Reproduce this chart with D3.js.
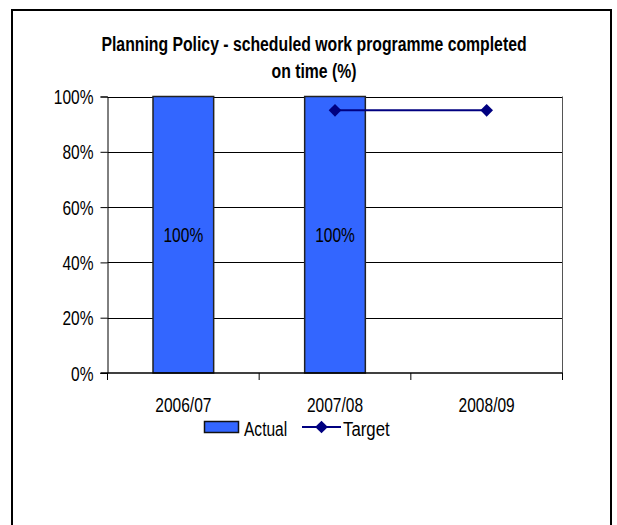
<!DOCTYPE html>
<html lang="en">
<head>
<meta charset="UTF-8">
<title>Planning Policy - scheduled work programme completed on time</title>
<script src="https://cdn.jsdelivr.net/npm/d3@7"></script>
<style>
body {
    margin: 0;
    background: #ffffff;
}
svg text {
    font-family: "Liberation Sans Narrow", "Arial Narrow", "Liberation Sans", Arial, sans-serif;
    fill: #000000;
}
</style>
</head>
<body>
<div id="chart"></div>
<script>
// chart data
const TITLE_LINES = ["Planning Policy - scheduled work programme completed", "on time (%)"];
const CATEGORIES = ["2006/07", "2007/08", "2008/09"];
const ACTUAL = [100, 100, null];
const TARGET = [null, 95, 95];
const Y_TICKS = [0, 20, 40, 60, 80, 100];

// page and plot geometry
const WIDTH = 617;
const HEIGHT = 525;
const PLOT = {left: 107.5, right: 562.5, top: 96.5, bottom: 373};
const BAR_COLOR = "#3366ff";
const TARGET_COLOR = "#000080";
const FONT_SIZE = 21;
// no narrow font installed, so squeeze text horizontally
const SQUEEZE = 0.74;
const TITLE_SQUEEZE = 0.77;

const svg = d3.select("#chart").append("svg")
    .attr("width", WIDTH)
    .attr("height", HEIGHT);

function addText(parent, px, py, str, anchor, size, bold, sx) {
    return parent.append("text")
        .attr("transform", `translate(${px},${py}) scale(${sx || SQUEEZE},1)`)
        .attr("text-anchor", anchor)
        .style("font-size", size + "px")
        .style("font-weight", bold ? "bold" : "normal")
        .text(str);
}

// outer frame, bottom edge runs off the picture
svg.append("rect")
    .attr("x", 12)
    .attr("y", 10)
    .attr("width", 599)
    .attr("height", 540)
    .attr("fill", "none")
    .attr("stroke", "#000")
    .attr("stroke-width", 2);

// title
TITLE_LINES.forEach((t, i) => addText(svg, 314, 51 + i * 27, t, "middle", 20.5, true, TITLE_SQUEEZE));

const x = d3.scaleBand()
    .domain(CATEGORIES)
    .range([PLOT.left, PLOT.right])
    .paddingInner(0)
    .paddingOuter(0);

const y = d3.scaleLinear()
    .domain([0, 100])
    .range([PLOT.bottom, PLOT.top]);

// gridlines
svg.append("g")
    .selectAll("line")
    .data(Y_TICKS.slice(1))
    .join("line")
    .attr("x1", PLOT.left)
    .attr("x2", PLOT.right)
    .attr("y1", d => Math.round(y(d)) + 0.5)
    .attr("y2", d => Math.round(y(d)) + 0.5)
    .attr("stroke", "#000")
    .attr("stroke-width", 1);

// plot area right edge
svg.append("line")
    .attr("x1", PLOT.right)
    .attr("x2", PLOT.right)
    .attr("y1", PLOT.top)
    .attr("y2", PLOT.bottom)
    .attr("stroke", "#555")
    .attr("stroke-width", 1);

// bars
const barW = x.bandwidth() * 0.4;
const bars = CATEGORIES.map((c, i) => ({cat: c, value: ACTUAL[i]}))
    .filter(d => d.value != null);

svg.append("g")
    .selectAll("rect")
    .data(bars)
    .join("rect")
    .attr("x", d => x(d.cat) + (x.bandwidth() - barW) / 2)
    .attr("y", d => y(d.value))
    .attr("width", barW)
    .attr("height", d => y(0) - y(d.value))
    .attr("fill", BAR_COLOR)
    .attr("stroke", "#222")
    .attr("stroke-width", 1.5);

// value labels in the middle of each bar
const barLabels = svg.append("g");
bars.forEach(d => addText(barLabels, x(d.cat) + x.bandwidth() / 2, y(d.value / 2) + 7.5,
    d.value + "%", "middle", FONT_SIZE, false));

// y axis
const yAxis = svg.append("g")
    .attr("transform", `translate(${PLOT.left},0)`)
    .call(d3.axisLeft(y)
        .tickValues(Y_TICKS)
        .tickSize(7)
        .tickFormat(""));
yAxis.select(".domain").attr("stroke", "#000");
Y_TICKS.forEach(t => addText(svg, PLOT.left - 14, y(t) + 7.5, t + "%", "end", FONT_SIZE, false));

// x axis, ticks sit between categories
const xAxisG = svg.append("g")
    .attr("transform", `translate(0,${PLOT.bottom})`);
xAxisG.append("line")
    .attr("x1", PLOT.left - 7)
    .attr("x2", PLOT.right)
    .attr("stroke", "#000")
    .attr("stroke-width", 1.5);
const tickPos = CATEGORIES.map(c => x(c)).concat([x(CATEGORIES[CATEGORIES.length - 1]) + x.bandwidth()]);
xAxisG.selectAll("line.tick")
    .data(tickPos)
    .join("line")
    .attr("class", "tick")
    .attr("x1", d => d)
    .attr("x2", d => d)
    .attr("y1", 0)
    .attr("y2", 7)
    .attr("stroke", "#000");
CATEGORIES.forEach(c => addText(xAxisG, x(c) + x.bandwidth() / 2, 38.5, c, "middle", FONT_SIZE, false));

// target line and diamonds
const targetPts = CATEGORIES.map((c, i) => ({cat: c, value: TARGET[i]}))
    .filter(d => d.value != null);
const line = d3.line()
    .x(d => x(d.cat) + x.bandwidth() / 2)
    .y(d => y(d.value));
svg.append("path")
    .datum(targetPts)
    .attr("d", line)
    .attr("fill", "none")
    .attr("stroke", TARGET_COLOR)
    .attr("stroke-width", 2);
const diamond = d3.symbol().type(d3.symbolSquare).size(80);
svg.append("g")
    .selectAll("path")
    .data(targetPts)
    .join("path")
    .attr("transform", d => `translate(${x(d.cat) + x.bandwidth() / 2},${y(d.value)}) rotate(45)`)
    .attr("d", diamond)
    .attr("fill", TARGET_COLOR);

// legend
const legend = svg.append("g").attr("transform", "translate(0,427)");
legend.append("rect")
    .attr("x", 204.5)
    .attr("y", -5.5)
    .attr("width", 34)
    .attr("height", 11)
    .attr("fill", BAR_COLOR)
    .attr("stroke", "#111")
    .attr("stroke-width", 1.5);
addText(legend, 244, 8.5, "Actual", "start", FONT_SIZE, false);
legend.append("line")
    .attr("x1", 302)
    .attr("x2", 341)
    .attr("y1", 0)
    .attr("y2", 0)
    .attr("stroke", TARGET_COLOR)
    .attr("stroke-width", 2);
legend.append("path")
    .attr("transform", "translate(321.5,0) rotate(45)")
    .attr("d", diamond)
    .attr("fill", TARGET_COLOR);
addText(legend, 343, 8.5, "Target", "start", FONT_SIZE, false, 0.8);
</script>
</body>
</html>
